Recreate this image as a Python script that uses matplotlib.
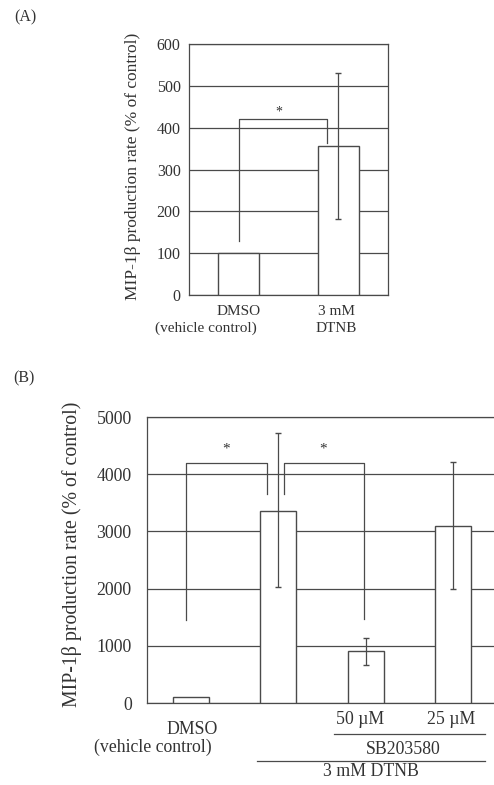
import matplotlib
matplotlib.use("Agg")
from matplotlib import pyplot as plt

plt.rcParams['font.family'] = ['Liberation Serif', 'DejaVu Serif']

# panel A data
a_labels = ["DMSO", "3 mM\nDTNB"]
a_values = [100, 356]
a_err_low = [0, 174]
a_err_high = [0, 175]

# panel B data
b_values = [100, 3350, 905, 3090]
b_err_low = [0, 1320, 245, 1100]
b_err_high = [0, 1370, 230, 1120]

line_c = "#4a4a4a"
txt_c = "#333333"
W, H = 494, 785

fig = plt.figure(figsize=(W / 100, H / 100), dpi=100)
fig.patch.set_facecolor("white")


def px_axes(l, t, r, b):
    return fig.add_axes([l / W, 1 - b / H, (r - l) / W, (b - t) / H])


def style(ax, ymax, step, fs, pad):
    ax.set_ylim(0, ymax)
    ax.set_yticks(range(0, ymax + 1, step))
    ax.yaxis.grid(True, color=line_c, linewidth=0.9)
    ax.set_axisbelow(True)
    for s in ax.spines.values():
        s.set_color(line_c)
        s.set_linewidth(0.9)
    ax.tick_params(axis="y", length=0, labelsize=fs, pad=pad, colors=txt_c)
    ax.tick_params(axis="x", which="both", length=0, labelbottom=False)
    ax.tick_params(axis="x", which="minor", length=4, direction="in",
                   color=line_c, width=0.8)


# ---------------- (A) ----------------
axA = px_axes(189, 44, 388, 295)
axA.set_xlim(-0.5, 1.5)
style(axA, 600, 100, 11.5, 6)
axA.set_xticks([0.5], minor=True)
axA.bar([0, 1], a_values, width=0.41, color="white", edgecolor=line_c, linewidth=1.0, zorder=3)
axA.errorbar([1], a_values[1:], yerr=[a_err_low[1:], a_err_high[1:]], fmt="none",
             ecolor=line_c, elinewidth=0.9, capsize=2.5, zorder=4)
axA.plot([0, 0, 0.89, 0.89], [129, 421, 421, 363], color=line_c, lw=0.9, zorder=4)
axA.text(0.4, 438, "*", ha="center", va="center", fontsize=10, color=txt_c)
ta = axA.get_xaxis_transform()
ka = dict(transform=ta, ha="center", va="center", fontsize=11, color=txt_c)
axA.text(0, -0.065, "DMSO", **ka)
axA.text(-0.33, -0.132, "(vehicle control)", **ka)
axA.text(0.98, -0.065, "3 mM", **ka)
axA.text(0.98, -0.132, "DTNB", **ka)
fig.text(133 / W, 1 - 166 / H, "MIP-1β production rate (% of control)", rotation=90,
         ha="center", va="center", fontsize=12.5, color=txt_c)
fig.text(25 / W, 1 - 17 / H, "(A)", ha="center", va="center", fontsize=11.5, color=txt_c)

# ---------------- (B) ----------------
axB = px_axes(147, 417, 497, 703)
axB.set_xlim(-0.5, 3.5)
style(axB, 5000, 1000, 12.8, 11)
axB.set_xticks([0.5, 1.5, 2.5], minor=True)
axB.bar(range(4), b_values, width=0.41, color="white", edgecolor=line_c, linewidth=1.0, zorder=3)
axB.errorbar([1, 2, 3], b_values[1:], yerr=[b_err_low[1:], b_err_high[1:]], fmt="none",
             ecolor=line_c, elinewidth=0.9, capsize=2.5, zorder=4)
axB.plot([-0.05, -0.05, 0.87, 0.87], [1450, 4200, 4200, 3650], color=line_c, lw=0.9, zorder=4)
axB.plot([1.07, 1.07, 1.98, 1.98], [3650, 4200, 4200, 1470], color=line_c, lw=0.9, zorder=4)
axB.text(0.4, 4440, "*", ha="center", va="center", fontsize=11, color=txt_c)
axB.text(1.51, 4440, "*", ha="center", va="center", fontsize=11, color=txt_c)
tb = axB.get_xaxis_transform()
kb = dict(transform=tb, ha="center", va="center", fontsize=12.8, color=txt_c)
axB.text(1.93, -0.056, "50 µM", **kb)
axB.text(2.98, -0.056, "25 µM", **kb)
axB.text(0.02, -0.094, "DMSO", **kb)
axB.text(-0.43, -0.154, "(vehicle control)", **kb)
axB.text(2.43, -0.164, "SB203580", **kb)
axB.text(2.06, -0.238, "3 mM DTNB", **kb)
axB.plot([1.64, 3.36], [-0.108, -0.108], transform=tb, color=line_c, lw=0.9, clip_on=False)
axB.plot([0.76, 3.36], [-0.203, -0.203], transform=tb, color=line_c, lw=0.9, clip_on=False)
fig.text(72 / W, 1 - 554 / H, "MIP-1β production rate (% of control)", rotation=90,
         ha="center", va="center", fontsize=14.3, color=txt_c)
fig.text(24 / W, 1 - 378 / H, "(B)", ha="center", va="center", fontsize=11.5, color=txt_c)

fig.savefig("out.png", dpi=100)
